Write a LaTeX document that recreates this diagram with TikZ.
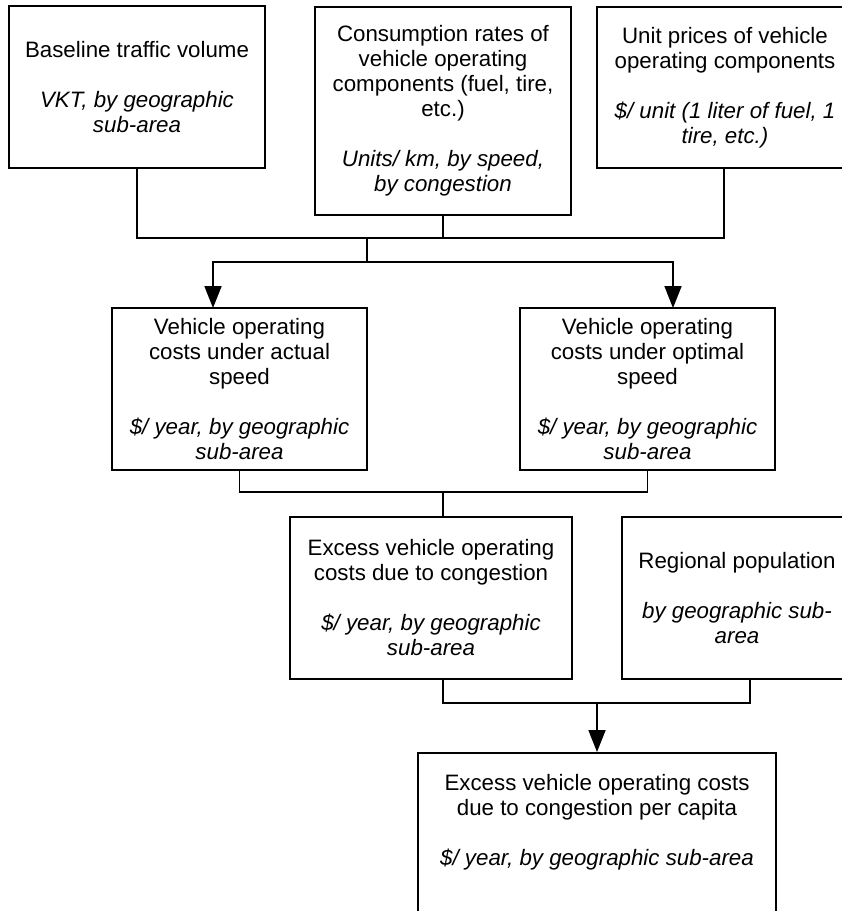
\documentclass[tikz,border=0pt]{standalone}
\usepackage{fontspec}
\setmainfont{Liberation Sans}
\usetikzlibrary{arrows.meta}
\begin{document}
\begin{tikzpicture}[x=1pt,y=-1pt,
  boxfont/.style={font=\fontsize{22.3}{25}\selectfont},
  box/.style={draw, line width=1.8pt, rectangle, align=center, inner sep=0pt, boxfont},
  wire/.style={line width=1.8pt},
  flow/.style={line width=1.8pt, -{Triangle[length=22pt,width=17pt]}},
]
\useasboundingbox (0,0) rectangle (842,911);
\clip (0,0) rectangle (842,911);

% inputs
\node[box, minimum width=256pt, minimum height=162pt] (base) at (137,87)
  {Baseline traffic volume\\[25pt]\textit{VKT, by geographic}\\\textit{sub-area}};
\node[box, minimum width=256pt, minimum height=208pt] (cons) at (443,111)
  {Consumption rates of\\vehicle operating\\components (fuel, tire,\\etc.)\\[25pt]\textit{Units/ km, by speed,}\\\textit{by congestion}};
\node[box, minimum width=256pt, minimum height=161pt] (unit) at (725,87.5)
  {Unit prices of vehicle\\operating components\\[25pt]\textit{\$/ unit (1 liter of fuel, 1}\\\textit{tire, etc.)}};

% costs under actual and optimal speed
\node[box, minimum width=255pt, minimum height=162pt] (actual) at (239.5,389)
  {Vehicle operating\\costs under actual\\speed\\[25pt]\textit{\$/ year, by geographic}\\\textit{sub-area}};
\node[box, minimum width=255pt, minimum height=162pt] (optimal) at (647.5,389)
  {Vehicle operating\\costs under optimal\\speed\\[25pt]\textit{\$/ year, by geographic}\\\textit{sub-area}};

% excess costs and population
\node[box, minimum width=282pt, minimum height=162pt] (excess) at (431,598)
  {Excess vehicle operating\\costs due to congestion\\[25pt]\textit{\$/ year, by geographic}\\\textit{sub-area}};
\node[box, minimum width=230pt, minimum height=162pt] (pop) at (737,598)
  {Regional population\\[25pt]\textit{by geographic sub-}\\\textit{area}};

% per-capita result
\node[box, minimum width=358pt, minimum height=200pt, anchor=north] (percap) at (597,752) {};
\node[boxfont, align=center, inner sep=0pt, anchor=north] (percaptext) at (597,774)
  {Excess vehicle operating costs\\due to congestion per capita\\[25pt]\textit{\$/ year, by geographic sub-area}};

% junction points
\coordinate (j1) at (367,238);
\coordinate (j2) at (367,262);
\coordinate (j3) at (443,492);
\coordinate (j4) at (597,703);
\coordinate (excin) at (443,517);
\coordinate (excout) at (443,679);
\coordinate (popout) at (750,679);
\coordinate (unitout) at (724,168);
\coordinate (actin) at (213,308);
\coordinate (optin) at (673,308);

% connectors
\draw[wire] (base.south) |- (j1) -| (unitout);
\draw[wire] (cons.south) -- (cons.south |- j1);
\draw[wire] (j1) -- (j2);
\draw[flow] (j2) -| (actin);
\draw[flow] (j2) -| (optin);
\draw[wire] (actual.south) |- (j3) -| (optimal.south);
\draw[wire] (j3) -- (excin);
\draw[wire] (excout) |- (j4) -| (popout);
\draw[flow] (j4) -- (percap.north);
\end{tikzpicture}
\end{document}
